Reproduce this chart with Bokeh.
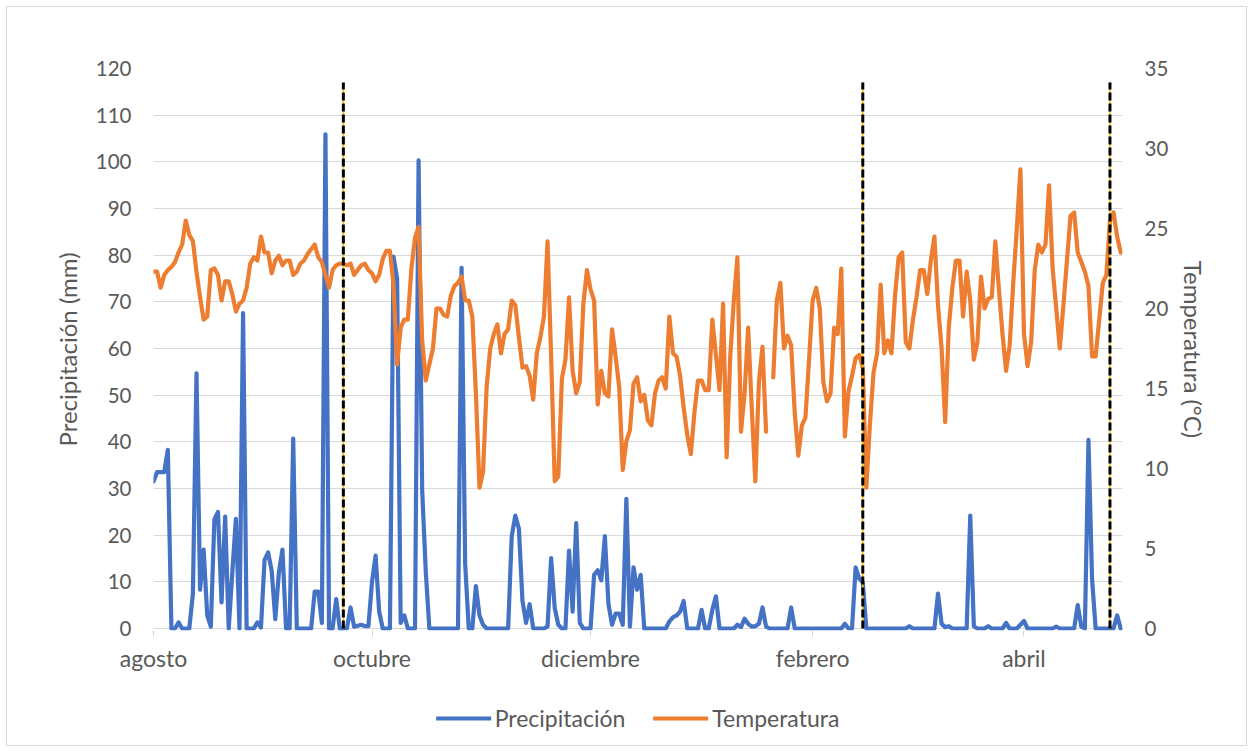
import numpy as np
from bokeh.plotting import figure
from bokeh.layouts import column
from bokeh.models import Range1d, LinearAxis, FixedTicker, Legend, LegendItem
from bokeh.embed import file_html
from bokeh.resources import INLINE

# Daily series, day 0 = 1 August
precipitacion = [
    31.5, 33.5, 33.5, 33.5, 38.3, 0, 0, 1.3, 0, 0,
    0, 7.5, 54.7, 8.3, 16.9, 2.8, 0.4, 23.4, 25.0, 5.6,
    24.0, 0, 12.0, 23.5, 0, 67.6, 0, 0, 0, 1.3,
    0.2, 14.7, 16.3, 12.3, 2.0, 12.0, 16.9, 0, 0, 40.7,
    0, 0, 0, 0, 0, 7.9, 7.9, 1.2, 105.9, 0,
    0, 6.3, 0, 0, 0, 4.5, 0.4, 0.6, 0.8, 0.5,
    0.5, 10.0, 15.6, 3.6, 0, 0, 0, 79.7, 75.0, 1.2,
    2.8, 0, 0, 0, 100.3, 29.7, 12.3, 0, 0, 0,
    0, 0, 0, 0, 0, 0, 77.3, 13.9, 0, 0,
    9.1, 2.8, 0.8, 0, 0, 0, 0, 0, 0, 0,
    19.8, 24.2, 21.4, 5.9, 1.2, 5.2, 0, 0, 0, 0,
    0.4, 15.1, 4.4, 0.8, 0, 0, 16.7, 3.6, 22.6, 1.2,
    0, 0, 0, 11.5, 12.5, 10.3, 19.8, 5.2, 0.8, 3.2,
    3.2, 0.8, 27.8, 0.4, 13.1, 8.3, 11.5, 0, 0, 0,
    0, 0, 0, 0, 1.5, 2.4, 2.8, 3.6, 5.9, 0,
    0, 0, 0, 4.0, 0, 0, 4.0, 6.9, 0, 0,
    0, 0, 0, 0.8, 0.3, 2.1, 1.0, 0.4, 0.5, 1.0,
    4.5, 0.4, 0, 0, 0, 0, 0, 0, 4.5, 0,
    0, 0, 0, 0, 0, 0, 0, 0, 0, 0,
    0, 0, 0, 1.0, 0, 0, 13.1, 10.7, 9.9, 0,
    0, 0, 0, 0, 0, 0, 0, 0, 0, 0,
    0, 0.5, 0, 0, 0, 0, 0, 0, 0, 7.5,
    1.0, 0.3, 0.5, 0, 0, 0, 0, 0, 24.2, 0.5,
    0, 0, 0, 0.5, 0, 0, 0, 0, 1.2, 0,
    0, 0, 0.8, 1.6, 0, 0, 0, 0, 0, 0,
    0, 0, 0.4, 0, 0, 0, 0, 0, 5.0, 0.4,
    0, 40.4, 10.7, 0, 0, 0, 0, 0, 0, 2.8,
    0,
]

temperatura = [
    22.3, 22.3, 21.3, 22.1, 22.4, 22.6, 22.9, 23.5, 24.0, 25.5,
    24.6, 24.2, 22.3, 20.7, 19.3, 19.5, 22.4, 22.5, 22.1, 20.5,
    21.7, 21.7, 20.9, 19.8, 20.3, 20.5, 21.3, 22.8, 23.2, 23.0,
    24.5, 23.5, 23.5, 22.2, 23.0, 23.3, 22.7, 23.0, 23.0, 22.1,
    22.3, 22.8, 23.0, 23.4, 23.7, 24.0, 23.2, 22.9, 22.1, 21.3,
    22.4, 22.7, 22.8, 22.8, 22.7, 22.8, 22.1, 22.4, 22.7, 22.8,
    22.4, 22.2, 21.7, 22.1, 23.1, 23.6, 23.6, 21.5, 16.5, 18.8,
    19.3, 19.3, 22.5, 24.4, 25.1, 18.0, 15.5, 16.5, 17.5, 20.0,
    20.0, 19.6, 19.5, 20.8, 21.4, 21.6, 22.0, 20.5, 20.5, 19.5,
    14.7, 8.8, 9.8, 15.1, 17.5, 18.4, 19.0, 17.2, 18.4, 18.7,
    20.5, 20.2, 18.2, 16.3, 16.4, 15.8, 14.3, 17.2, 18.2, 19.5,
    24.2, 17.0, 9.2, 9.5, 15.6, 16.8, 20.7, 16.1, 14.7, 15.4,
    20.3, 22.4, 21.2, 20.5, 14.0, 16.1, 14.7, 14.5, 18.7, 17.0,
    15.1, 9.9, 11.7, 12.4, 15.3, 15.7, 14.2, 14.6, 13.0, 12.7,
    14.7, 15.5, 15.7, 15.0, 19.5, 17.2, 17.0, 15.8, 13.8, 12.1,
    10.9, 13.5, 15.5, 15.5, 14.9, 14.9, 19.3, 17.1, 14.9, 20.3,
    10.7, 17.0, 20.5, 23.2, 12.3, 14.7, 18.8, 13.8, 9.2, 15.4,
    17.6, 12.3, np.nan, 15.7, 20.5, 21.6, 17.5, 18.3, 17.7, 13.5,
    10.8, 12.7, 13.2, 16.8, 20.5, 21.3, 20.0, 15.4, 14.2, 14.7,
    18.8, 18.4, 22.5, 12.0, 14.8, 15.8, 16.9, 17.1, 16.3, 8.8,
    12.8, 16.0, 17.2, 21.5, 17.2, 18.0, 17.2, 20.8, 23.2, 23.5,
    17.9, 17.5, 19.3, 20.7, 22.4, 22.4, 20.9, 23.0, 24.5, 20.2,
    17.5, 12.9, 18.8, 21.3, 23.0, 23.0, 19.5, 22.3, 20.5, 16.8,
    17.9, 22.0, 20.0, 20.6, 20.7, 24.2, 21.2, 18.4, 16.1, 17.7,
    21.6, 25.0, 28.7, 18.4, 16.4, 17.9, 22.4, 24.0, 23.5, 24.0,
    27.7, 22.5, 20.0, 17.5, 20.2, 23.0, 25.8, 26.0, 23.5, 22.9,
    22.3, 21.4, 17.0, 17.0, 19.3, 21.6, 22.1, 25.5, 26.0, 24.5,
    23.5,
]

dias = list(range(len(precipitacion)))
mes_dias = [0, 61, 122, 184, 243]
mes_nombres = ["agosto", "octubre", "diciembre", "febrero", "abril"]
marcas_dias = [53, 198, 267]
marcas_alto_mm = 117
ticks_precip = list(range(0, 121, 10))
ticks_temp = list(range(0, 36, 5))

FONT = "Lato"
GREY = "#595959"
GRID = "#D9D9D9"
BLUE = "#4472C4"
ORANGE = "#ED7D31"
temp_arr = np.array(temperatura, dtype=float)

p = figure(width=1239, height=683, output_backend="svg", toolbar_location=None,
           x_range=Range1d(0, 270.5), y_range=Range1d(-0.43, 120),
           min_border_left=146, min_border_right=124, min_border_top=61,
           min_border_bottom=60)
p.outline_line_color = None
p.background_fill_color = "white"
p.border_fill_color = "white"

p.extra_y_ranges = {"temp": Range1d(-0.125, 35)}

p.xgrid.grid_line_color = None
p.ygrid.grid_line_color = GRID
p.ygrid.grid_line_width = 1

yl = p.yaxis[0]
yl.ticker = FixedTicker(ticks=ticks_precip)
yl.axis_label = "Precipitación (mm)"
yl.axis_label_standoff = 11

yr = LinearAxis(y_range_name="temp", ticker=FixedTicker(ticks=ticks_temp),
                axis_label="Temperatura (°C)")
yr.axis_label_standoff = 8
p.add_layout(yr, "right")

for ax in (yl, yr):
    ax.axis_line_color = None
    ax.major_tick_line_color = None
    ax.minor_tick_line_color = None
    ax.major_tick_out = 0
    ax.major_tick_in = 0
    ax.major_label_standoff = 22
    ax.major_label_text_font = FONT
    ax.major_label_text_font_size = "20.5px"
    ax.major_label_text_color = GREY
    ax.axis_label_text_font = FONT
    ax.axis_label_text_font_size = "24px"
    ax.axis_label_text_color = GREY
    ax.axis_label_text_font_style = "normal"

xa = p.xaxis[0]
xa.ticker = FixedTicker(ticks=mes_dias)
xa.major_label_overrides = {d: n for d, n in zip(mes_dias, mes_nombres)}
xa.axis_line_color = None
xa.major_tick_line_color = GRID
xa.major_tick_out = 6
xa.major_tick_in = 0
xa.minor_tick_line_color = None
xa.major_label_standoff = 7
xa.major_label_text_font = FONT
xa.major_label_text_font_size = "23px"
xa.major_label_text_color = GREY

p.line(dias, precipitacion, line_color=BLUE, line_width=4.2,
       line_join="round", line_cap="round")
p.line(dias, temp_arr, y_range_name="temp",
       line_color=ORANGE, line_width=4.2, line_join="round", line_cap="round")

p.segment(x0=marcas_dias, y0=[0] * len(marcas_dias), x1=marcas_dias,
          y1=[marcas_alto_mm] * len(marcas_dias), line_color="#FFC000", line_width=1.5)
p.segment(x0=marcas_dias, y0=[0] * len(marcas_dias), x1=marcas_dias,
          y1=[marcas_alto_mm] * len(marcas_dias), line_color="black", line_width=3,
          line_dash="8 3")

# legend strip below the chart (same series, drawn out of view; only the legend shows)
q = figure(width=1239, height=55, output_backend="svg", toolbar_location=None,
           x_range=Range1d(0, 270.5), y_range=Range1d(-1000, -999),
           x_axis_location=None, y_axis_location=None,
           min_border_left=12, min_border_right=0, min_border_top=0, min_border_bottom=0)
q.outline_line_color = None
q.grid.visible = False
q.background_fill_color = "white"
q.border_fill_color = "white"
lp = q.line(dias, precipitacion, line_color=BLUE, line_width=4.2, line_cap="round")
lt = q.line(dias, temp_arr, line_color=ORANGE, line_width=4.2, line_cap="round")

legend = Legend(items=[LegendItem(label="Precipitación", renderers=[lp]),
                       LegendItem(label="Temperatura", renderers=[lt])],
                orientation="horizontal", location="center")
legend.border_line_color = None
legend.background_fill_alpha = 0
legend.glyph_width = 55
legend.glyph_height = 20
legend.label_standoff = 4
legend.spacing = 28
legend.padding = 4
legend.margin = 0
legend.label_text_font = FONT
legend.label_text_font_size = "23px"
legend.label_text_color = GREY
q.add_layout(legend)

lay = column(p, q, spacing=0)
lay.styles = {"border": "1px solid #D9D9D9", "margin-left": "6px", "margin-top": "6px",
              "width": "fit-content"}

open("out.html", "w").write(file_html(lay, INLINE))
